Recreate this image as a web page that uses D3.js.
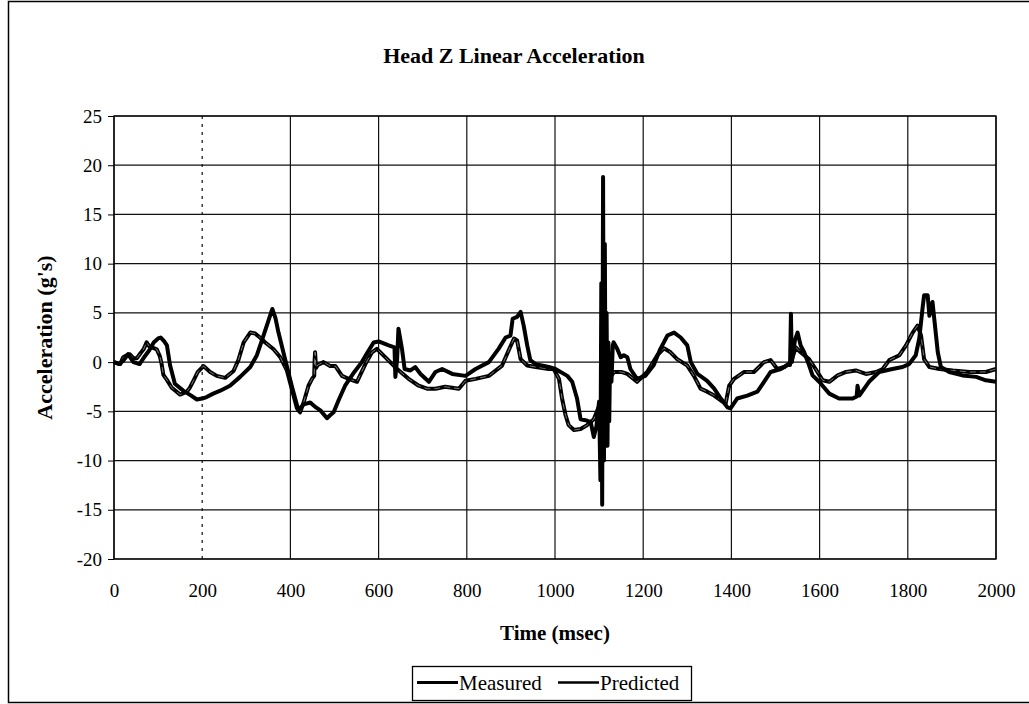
<!DOCTYPE html>
<html>
<head>
<meta charset="utf-8">
<script src="https://cdn.jsdelivr.net/npm/d3@7"></script>
<style>
  body { margin: 0; background: #fff; }
  text { font-family: "Liberation Serif", "Times New Roman", serif; fill: #000; }
</style>
</head>
<body>
<div id="chart"></div>
<script>
// chart values
const title = 'Head Z Linear Acceleration';
const xLabel = 'Time (msec)';
const yLabel = "Acceleration (g's)";
const xTicks = [0, 200, 400, 600, 800, 1000, 1200, 1400, 1600, 1800, 2000];
const yTicks = [-20, -15, -10, -5, 0, 5, 10, 15, 20, 25];
const seriesNames = ['Measured', 'Predicted'];

// [time (msec), acceleration (g)]
const measured = [
  [0, 0], [12, -0.2], [22, 0.2], [32, 0.8], [44, 0.0], [58, -0.2], [70, 0.6], [80, 1.2],
  [90, 2.0], [100, 2.4], [106, 2.5], [114, 2.1], [120, 1.7], [127, -0.3], [138, -2.2],
  [157, -2.9], [175, -3.4], [188, -3.8], [200, -3.7], [210, -3.55], [225, -3.2], [241, -2.9],
  [263, -2.4], [286, -1.5], [309, -0.5], [324, 0.7], [339, 2.7], [350, 4.2], [359, 5.4],
  [366, 4.5], [373, 3.0], [388, 0.3], [403, -2.4], [418, -4.9], [430, -4.3], [445, -4.1],
  [458, -4.6], [468, -4.9], [483, -5.7], [490, -5.4], [498, -5.1], [510, -3.8], [524, -2.4],
  [545, -1.0], [562, 0], [575, 1.0], [589, 2.0], [600, 2.1], [623, 1.7], [636, 1.5],
  [638, -1.5], [642, 0.3], [645, 3.4], [653, 1.35], [659, -0.7], [672, -0.85], [683, -0.5],
  [695, -1.2], [714, -2.0], [729, -1.0], [744, -0.7], [767, -1.2], [797, -1.4], [820, -0.7],
  [850, 0], [872, 1.35], [888, 2.5], [899, 2.7], [904, 4.4], [914, 4.6], [922, 5.1],
  [929, 3.7], [937, 1.7], [944, 0.2], [956, -0.2], [986, -0.5], [1001, -0.7], [1028, -1.4],
  [1039, -2.0], [1050, -3.7], [1058, -5.8], [1069, -5.9], [1081, -6.1], [1088, -7.6],
  [1094, -6.5], [1100, -4.0], [1103, -12.0], [1105, 8.0], [1107, -14.5], [1109, 18.8],
  [1111, -10.0], [1113, 12.0], [1115, -8.5], [1117, 5.0], [1119, -8.5], [1121, 2.0],
  [1123, -6.0], [1125, 0.5], [1128, -2.0], [1131, 1.7], [1133, 2.0], [1141, 1.35],
  [1149, 0.5], [1156, 0.7], [1164, 0.5], [1171, -0.7], [1186, -1.7], [1205, -1.4],
  [1224, -0.3], [1239, 1.35], [1255, 2.7], [1270, 3.0], [1285, 2.5], [1300, 1.7], [1308, 0],
  [1323, -1.2], [1345, -1.9], [1361, -2.7], [1376, -3.7], [1391, -4.6], [1398, -4.7],
  [1413, -3.7], [1436, -3.4], [1459, -3.0], [1474, -2.0], [1489, -1.0], [1512, -0.7],
  [1527, -0.3], [1533, -0.3], [1535, 4.9], [1537, 0], [1544, 2.2], [1550, 3.0], [1557, 1.7],
  [1565, 1.0], [1576, -0.3], [1584, -1.35], [1599, -2.0], [1622, -3.2], [1644, -3.7],
  [1675, -3.7], [1684, -3.5], [1686, -2.4], [1690, -3.4], [1712, -2.0], [1735, -1.0],
  [1765, -0.7], [1788, -0.5], [1803, -0.2], [1818, 0.7], [1826, 2.4], [1834, 5.7],
  [1837, 6.8], [1845, 6.8], [1849, 4.7], [1856, 6.1], [1860, 4.4], [1868, 1.0], [1875, -0.5],
  [1894, -1.0], [1924, -1.35], [1955, -1.5], [1977, -1.85], [2000, -2.0]
];

const predicted = [
  [0, 0], [14, -0.2], [21, 0.5], [29, 0.7], [36, 0.8], [44, 0.4], [52, 0.4], [60, 0.9],
  [67, 1.3], [74, 2.0], [80, 1.6], [86, 1.5], [97, 1.3], [104, 0.6], [108, -0.2],
  [112, -1.3], [120, -1.8], [131, -2.6], [150, -3.3], [165, -3.0], [172, -2.6], [180, -1.9],
  [190, -1.0], [203, -0.4], [218, -1.0], [233, -1.4], [252, -1.6], [271, -0.9], [282, 0.2],
  [294, 2.0], [309, 3.0], [320, 2.9], [331, 2.5], [343, 2.0], [362, 1.3], [377, 0.5],
  [392, -0.85], [403, -2.7], [415, -4.7], [422, -5.1], [430, -4.1], [441, -2.4], [449, -1.7],
  [454, -1.4], [455, 0.2], [456, 1.0], [458, -0.6], [462, -0.3], [475, 0], [490, -0.4],
  [502, -0.4], [517, -1.4], [532, -1.7], [551, -2.0], [570, -0.2], [585, 1.0], [596, 1.35],
  [615, 0.5], [642, -0.7], [668, -1.7], [691, -2.4], [710, -2.7], [729, -2.7], [751, -2.5],
  [782, -2.7], [797, -1.9], [820, -1.7], [850, -1.4], [880, -0.35], [895, 1.2], [907, 2.4],
  [914, 2.2], [922, 0.3], [937, -0.35], [956, -0.5], [986, -0.7], [997, -0.7], [1009, -1.7],
  [1016, -3.7], [1024, -5.4], [1031, -6.4], [1043, -6.9], [1058, -6.8], [1073, -6.4],
  [1088, -5.8], [1103, -4.1], [1118, -2.0], [1134, -1.0], [1150, -1.0], [1164, -1.2],
  [1186, -2.0], [1209, -1.0], [1232, 0.7], [1247, 1.4], [1262, 1.0], [1277, 0.3],
  [1300, -0.35], [1315, -1.4], [1330, -2.7], [1345, -3.0], [1361, -3.4], [1376, -3.9],
  [1387, -4.2], [1395, -2.4], [1406, -1.7], [1429, -1.0], [1451, -1.0], [1474, 0],
  [1489, 0.2], [1504, -0.7], [1520, -0.5], [1535, 0], [1546, 1.5], [1557, 1.0], [1576, 0.3],
  [1591, -0.7], [1607, -1.85], [1622, -2.0], [1641, -1.35], [1660, -1.0], [1682, -0.85],
  [1705, -1.2], [1728, -1.0], [1743, -0.7], [1758, 0.2], [1781, 0.7], [1796, 1.7],
  [1811, 3.0], [1822, 3.7], [1830, 2.7], [1837, 0.3], [1849, -0.5], [1872, -0.7],
  [1902, -0.85], [1940, -1.0], [1977, -1.0], [2000, -0.7]
];

// set up SVG
const width = 1029;
const height = 704;
const plot = { left: 114, right: 996, top: 116, bottom: 559 };

const svg = d3.select('#chart')
  .append('svg')
  .attr('width', width)
  .attr('height', height);

// outer frame of the figure
svg.append('rect')
  .attr('x', 8.5).attr('y', 1.5)
  .attr('width', 1040).attr('height', 701)
  .attr('fill', 'none')
  .attr('stroke', '#000')
  .attr('stroke-width', 1.5);

const x = d3.scaleLinear().domain([0, 2000]).range([plot.left, plot.right]);
const y = d3.scaleLinear().domain([-20, 25]).range([plot.bottom, plot.top]);

// grid
svg.append('g')
  .selectAll('line')
  .data(yTicks)
  .join('line')
    .attr('x1', plot.left).attr('x2', plot.right)
    .attr('y1', (d) => y(d)).attr('y2', (d) => y(d))
    .attr('stroke', '#111')
    .attr('stroke-width', 1.2);

svg.append('g')
  .selectAll('line')
  .data(xTicks)
  .join('line')
    .attr('x1', (d) => x(d)).attr('x2', (d) => x(d))
    .attr('y1', plot.top).attr('y2', plot.bottom)
    .attr('stroke', '#111')
    .attr('stroke-width', 1.2)
    .attr('stroke-dasharray', (d) => d === 200 ? '3,5' : null);

// plot border
svg.append('rect')
  .attr('x', plot.left).attr('y', plot.top)
  .attr('width', plot.right - plot.left).attr('height', plot.bottom - plot.top)
  .attr('fill', 'none')
  .attr('stroke', '#000')
  .attr('stroke-width', 1.3);

// axes (plain hyphen minus and no thousands separator, as in the original)
const yAxis = svg.append('g')
  .attr('transform', `translate(${plot.left},0)`)
  .call(d3.axisLeft(y).tickValues(yTicks).tickFormat((d) => String(d)).tickSize(6).tickPadding(6));
yAxis.select('.domain').remove();
yAxis.selectAll('text').style('font-size', '19px').style('font-family', '"Liberation Serif", serif');

const xAxis = svg.append('g')
  .attr('transform', `translate(0,${plot.bottom})`)
  .call(d3.axisBottom(x).tickValues(xTicks).tickFormat((d) => String(d)).tickSize(0).tickPadding(25));
xAxis.select('.domain').remove();
xAxis.selectAll('text').style('font-size', '19px').style('font-family', '"Liberation Serif", serif');

// titles
svg.append('text')
  .attr('x', 514).attr('y', 63)
  .attr('text-anchor', 'middle')
  .style('font-size', '22px')
  .style('font-weight', 'bold')
  .text(title);

svg.append('text')
  .attr('x', 555).attr('y', 640)
  .attr('text-anchor', 'middle')
  .style('font-size', '21px')
  .style('font-weight', 'bold')
  .text(xLabel);

svg.append('text')
  .attr('transform', `translate(52,${(plot.top + plot.bottom) / 2}) rotate(-90)`)
  .attr('text-anchor', 'middle')
  .style('font-size', '22px')
  .style('font-weight', 'bold')
  .text(yLabel);

// series
const line = d3.line()
  .x((d) => x(d[0]))
  .y((d) => y(d[1]));

const plotArea = svg.append('g');

plotArea.append('path')
  .datum(predicted)
  .attr('d', line)
  .attr('fill', 'none')
  .attr('stroke', '#000')
  .attr('stroke-width', 4)
  .attr('stroke-linejoin', 'round');

plotArea.append('path')
  .datum(predicted)
  .attr('d', line)
  .attr('fill', 'none')
  .attr('stroke', '#fff')
  .attr('stroke-opacity', 0.6)
  .attr('stroke-width', 0.8)
  .attr('stroke-dasharray', '6,4')
  .attr('stroke-linejoin', 'round');

plotArea.append('path')
  .datum(measured)
  .attr('d', line)
  .attr('fill', 'none')
  .attr('stroke', '#000')
  .attr('stroke-width', 4)
  .attr('stroke-linejoin', 'round');

// legend
const legend = svg.append('g').attr('transform', 'translate(412,666)');
legend.append('rect')
  .attr('x', 0.5).attr('y', 0.5)
  .attr('width', 279).attr('height', 34)
  .attr('fill', '#fff')
  .attr('stroke', '#000')
  .attr('stroke-width', 1.3);

const legendItems = [
  { name: seriesNames[0], x0: 5, width: 3.2 },
  { name: seriesNames[1], x0: 146, width: 2.4 }
];
legendItems.forEach((it) => {
  legend.append('line')
    .attr('x1', it.x0).attr('x2', it.x0 + 41)
    .attr('y1', 16.5).attr('y2', 16.5)
    .attr('stroke', '#000')
    .attr('stroke-width', it.width);
  legend.append('text')
    .attr('x', it.x0 + 42).attr('y', 24)
    .style('font-size', '21px')
    .text(it.name);
});
</script>
</body>
</html>
